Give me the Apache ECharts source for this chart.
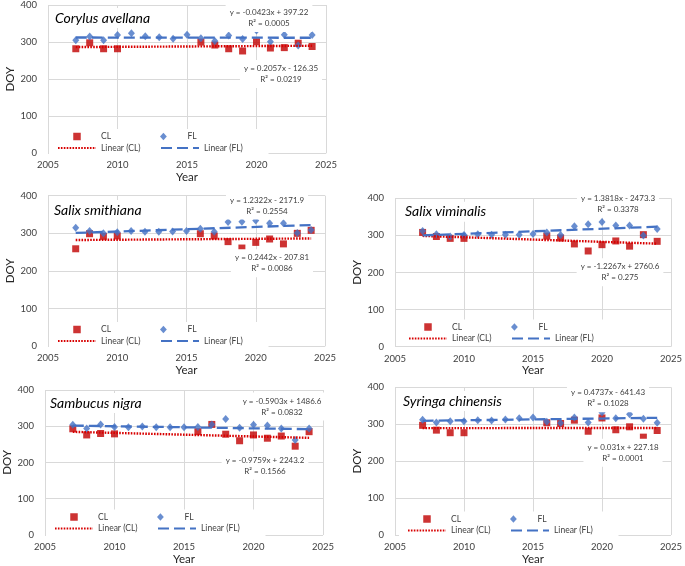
<!DOCTYPE html>
<html><head><meta charset="utf-8">
<script src="https://cdn.jsdelivr.net/npm/echarts@6/dist/echarts.min.js"></script>
<style>html,body{margin:0;padding:0;background:#fff}#c{width:685px;height:566px}</style>
</head><body><div id="c"></div>
<script>
// ---------- data ----------
const speciesNames = ['Corylus avellana', 'Salix smithiana', 'Salix viminalis', 'Sambucus nigra', 'Syringa chinensis'];
const yearsFL = [2007, 2008, 2009, 2010, 2011, 2012, 2013, 2014, 2015, 2016, 2017, 2018, 2019, 2020, 2021, 2022, 2023, 2024];
const yearsCL = [2007, 2008, 2009, 2010, 2016, 2017, 2018, 2019, 2020, 2021, 2022, 2023, 2024];

const corylusCL = [282, 298, 282, 282, 300, 292, 282, 276, 301, 284, 285, 297, 288];
const corylusFL = [305, 315, 305, 319, 324, 316, 313, 309, 320, 310, 303, 318, 308, 331, 301, 320, 291, 319];
const smithianaCL = [259, 299, 292, 293, 299, 293, 278, 261, 276, 285, 272, 300, 308];
const smithianaFL = [315, 306, 300, 303, 306, 304, 304, 305, 306, 312, 304, 330, 331, 334, 327, 327, 301, 309];
const viminalisCL = [308, 297, 292, 292, 298, 293, 277, 258, 275, 285, 271, 302, 284];
const viminalisFL = [312, 303, 297, 301, 303, 302, 302, 302, 304, 308, 301, 325, 330, 336, 327, 327, 300, 317];
const sambucusCL = [293, 276, 280, 279, 285, 305, 278, 260, 276, 267, 273, 245, 285];
const sambucusFL = [304, 294, 305, 298, 297, 299, 297, 297, 297, 298, 305, 320, 296, 304, 302, 294, 262, 294];
const syringaCL = [297, 284, 277, 277, 304, 302, 311, 281, 317, 285, 293, 265, 283];
const syringaFL = [312, 305, 308, 308, 311, 310, 313, 316, 318, 307, 303, 318, 305, 332, 316, 327, 315, 304];

const clValues = [corylusCL, smithianaCL, viminalisCL, sambucusCL, syringaCL];
const flValues = [corylusFL, smithianaFL, viminalisFL, sambucusFL, syringaFL];

// trendline equations as printed on the chart
const flSlope = [-0.0423, 1.2322, 1.3818, -0.5903, 0.4737];
const flIntercept = [397.22, -2171.9, -2473.3, 1486.6, -641.43];
const flR2 = ['0.0005', '0.2554', '0.3378', '0.0832', '0.1028'];
const clSlope = [0.2057, 0.2442, -1.2267, -0.9759, 0.031];
const clIntercept = [-126.35, -207.81, 2760.6, 2243.2, 227.18];
const clR2 = ['0.0219', '0.0086', '0.275', '0.1566', '0.0001'];

const xTicks = {min: 2005, max: 2025, interval: 5};
const yTicks = {min: 0, max: 400, interval: 100};

// ---------- layout / style ----------
const layouts = [
  {grid: {left: 48, top: 4, width: 278, height: 149.3}, title: [55, 18], legend: [57, 136], fl: [269, 18], cl: [281, 74]},
  {grid: {left: 48, top: 195.7, width: 277, height: 150.6}, title: [54, 210], legend: [57, 329], fl: [267, 205.5], cl: [272, 263.3]},
  {grid: {left: 395, top: 198.3, width: 280, height: 148.4}, title: [405, 211.7], legend: [408, 326.5], fl: [618, 203.7], cl: [620, 272.3]},
  {grid: {left: 43, top: 390, width: 280, height: 146.7}, title: [50, 403], legend: [54, 516.5], fl: [282, 406.5], cl: [265, 465.5]},
  {grid: {left: 395, top: 387.3, width: 278, height: 151}, title: [403, 401], legend: [407, 518.5], fl: [608, 398.3], cl: [623, 452.8]}
];
const RED = '#C00000', RED_LINE = '#D80000', BLUE = '#4472C4';
const FONT = 'Lato';
const GRID_COLOR = '#D9D9D9';
const SQUARE_ICON = 'path://M0,0L10,0L10,10L0,10Z';
const DIAMOND_ICON = 'path://M5,0L10,5.5L5,11L0,5.5Z';

function eqText(s, b, r2) {
  return 'y = ' + s + 'x ' + (b < 0 ? '- ' : '+ ') + Math.abs(b) + '\nR\u00B2 = ' + r2;
}

const grids = [], xAxes = [], yAxes = [], series = [], legends = [], graphics = [];

layouts.forEach((L, i) => {
  grids.push(Object.assign({}, L.grid));
  xAxes.push({
    type: 'value', gridIndex: i, min: xTicks.min, max: xTicks.max, interval: xTicks.interval,
    name: 'Year', nameLocation: 'middle', nameGap: 18,
    nameTextStyle: {fontFamily: FONT, fontSize: 11.5, color: '#262626'},
    axisLine: {show: false}, axisTick: {show: false},
    splitLine: {show: true, lineStyle: {color: GRID_COLOR, width: 1}},
    axisLabel: {fontFamily: FONT, fontSize: 9.5, color: '#404040', margin: 7, formatter: v => String(v)}
  });
  yAxes.push({
    type: 'value', gridIndex: i, min: yTicks.min, max: yTicks.max, interval: yTicks.interval,
    name: 'DOY', nameLocation: 'middle', nameGap: 32,
    nameTextStyle: {fontFamily: FONT, fontSize: 11.5, color: '#262626'},
    axisLine: {show: false}, axisTick: {show: false},
    splitLine: {show: true, lineStyle: {color: GRID_COLOR, width: 1}},
    axisLabel: {fontFamily: FONT, fontSize: 9.5, color: '#404040', margin: 11}
  });

  series.push({
    name: 'CL', type: 'scatter', xAxisIndex: i, yAxisIndex: i,
    symbol: 'rect', symbolSize: 7, itemStyle: {color: RED},
    data: yearsCL.map((y, k) => [y, clValues[i][k]]), z: 2
  });
  series.push({
    name: 'FL', type: 'scatter', xAxisIndex: i, yAxisIndex: i,
    symbol: 'diamond', symbolSize: [7, 8], itemStyle: {color: BLUE},
    data: yearsFL.map((y, k) => [y, flValues[i][k]]), z: 2
  });
  const c0 = yearsCL[0], c1 = yearsCL[yearsCL.length - 1];
  const f0 = yearsFL[0], f1 = yearsFL[yearsFL.length - 1];
  series.push({
    name: 'Linear (CL)', type: 'line', xAxisIndex: i, yAxisIndex: i,
    symbol: 'none', silent: true, z: 3,
    lineStyle: {color: RED_LINE, width: 2.4, type: [1.6, 1.3]},
    itemStyle: {color: RED_LINE},
    data: [[c0, clSlope[i] * c0 + clIntercept[i]], [c1, clSlope[i] * c1 + clIntercept[i]]]
  });
  series.push({
    name: 'Linear (FL)', type: 'line', xAxisIndex: i, yAxisIndex: i,
    symbol: 'none', silent: true, z: 3,
    lineStyle: {color: BLUE, width: 2.3, type: [11, 5]},
    itemStyle: {color: BLUE},
    data: [[f0, flSlope[i] * f0 + flIntercept[i]], [f1, flSlope[i] * f1 + flIntercept[i]]]
  });

  legends.push({
    data: [
      {name: 'CL', icon: SQUARE_ICON},
      {name: 'FL', icon: DIAMOND_ICON},
      {name: 'Linear (CL)', itemStyle: {opacity: 0}},
      {name: 'Linear (FL)', itemStyle: {opacity: 0}}
    ],
    left: L.legend[0] - 8, top: L.legend[1] - 4 - 3,
    width: 215, orient: 'horizontal',
    itemWidth: 38, itemHeight: 7.5, itemGap: 2.5, symbolKeepAspect: true,
    padding: [3, 8, 3, 8], backgroundColor: '#fff',
    selectedMode: false,
    formatter: n => '{t|' + n + '}',
    textStyle: {rich: {t: {width: 56.5, lineHeight: 11.7, fontSize: 8.5, fontFamily: FONT, color: '#404040'}}}
  });

  graphics.push({
    type: 'text', x: L.title[0] - 4, y: L.title[1], z: 50,
    style: {text: speciesNames[i], font: 'italic 14px ' + FONT, fill: '#000',
      align: 'left', verticalAlign: 'middle', backgroundColor: '#fff', padding: [3, 4]}
  });
  graphics.push({
    type: 'text', x: L.fl[0], y: L.fl[1], z: 60,
    style: {text: eqText(flSlope[i], flIntercept[i], flR2[i]), font: '8px ' + FONT, fill: '#404040',
      align: 'center', verticalAlign: 'middle', lineHeight: 11, backgroundColor: '#fff', padding: [3, 4]}
  });
  graphics.push({
    type: 'text', x: L.cl[0], y: L.cl[1], z: 60,
    style: {text: eqText(clSlope[i], clIntercept[i], clR2[i]), font: '8px ' + FONT, fill: '#404040',
      align: 'center', verticalAlign: 'middle', lineHeight: 11, backgroundColor: '#fff', padding: [3, 4]}
  });
});

const chart = echarts.init(document.getElementById('c'), null, {renderer: 'canvas'});
chart.setOption({
  backgroundColor: '#fff',
  animation: false,
  textStyle: {fontFamily: FONT},
  grid: grids, xAxis: xAxes, yAxis: yAxes,
  legend: legends,
  series: series,
  graphic: {elements: graphics}
});
</script>
</body></html>
